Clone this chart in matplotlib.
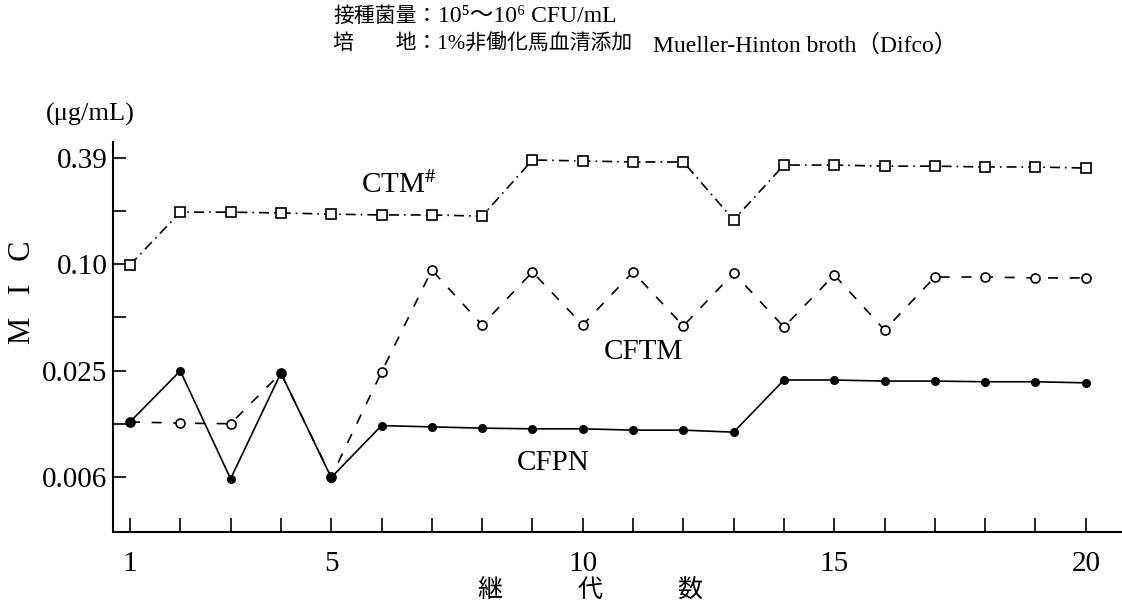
import matplotlib
matplotlib.use("Agg")
import matplotlib.pyplot as plt
import numpy as np

plt.rcParams['font.family'] = ['Liberation Serif', 'Noto Sans CJK JP', 'DejaVu Serif']
plt.rcParams['mathtext.fontset'] = 'stix'

# passage number
passages = np.arange(1, 21)

# MIC values (ug/mL)
ctm = [0.099, 0.197, 0.197, 0.195, 0.192, 0.19, 0.19, 0.187, 0.389, 0.384,
       0.379, 0.379, 0.178, 0.364, 0.364, 0.359, 0.359, 0.355, 0.355, 0.35]
cftm = [0.0128, 0.0126, 0.0125, 0.0242, 0.00625, 0.0245, 0.0927, 0.0453, 0.0903, 0.0453,
        0.0903, 0.0447, 0.0892, 0.0441, 0.0869, 0.0424, 0.0846, 0.0846, 0.0836, 0.0836]
cfpn = [0.0128, 0.0249, 0.0061, 0.0242, 0.0062, 0.0122, 0.0120, 0.0118, 0.0117, 0.0117,
        0.0115, 0.0115, 0.0112, 0.0221, 0.0221, 0.0218, 0.0218, 0.0216, 0.0216, 0.0213]

y_ticks = [0.00625, 0.0125, 0.025, 0.05, 0.1, 0.2, 0.4]
y_ticklabels = ['0.006', '', '0.025', '', '0.10', '', '0.39']
x_labeled = (1, 5, 10, 15, 20)

fig = plt.figure(figsize=(11.22, 6.14), dpi=100)
ax = fig.add_axes([0.1007, 0.1336, 0.8993, 0.6351])

ax.plot(passages, ctm, color='black', lw=1.2, ls=(0, (6, 3, 1, 3)),
        marker='s', ms=6.8, mfc='white', mec='black', mew=1.2)
ax.plot(passages, cftm, color='black', lw=1.2, ls=(0, (6, 7)),
        marker='o', ms=6.5, mfc='white', mec='black', mew=1.2)
ax.plot(passages, cfpn, color='black', lw=1.2, ls='-',
        marker='o', ms=5.5, mfc='black', mec='black')

ax.set_yscale('log', base=2)
ax.set_ylim(0.00305, 0.4915)
ax.set_xlim(0.662, 20.72)
ax.set_yticks(y_ticks)
ax.set_yticklabels(y_ticklabels, fontsize=21)
ax.minorticks_off()
ax.set_xticks(passages)
ax.set_xticklabels([str(i) if i in x_labeled else '' for i in passages], fontsize=21)

ax.spines['top'].set_visible(False)
ax.spines['right'].set_visible(False)
ax.spines['left'].set_linewidth(1.5)
ax.spines['bottom'].set_linewidth(1.5)
ax.tick_params(axis='y', direction='in', length=9, width=1.2, pad=4)
ax.tick_params(axis='x', direction='in', length=10, width=1.2, pad=14)

# series labels
ax.text(6.35, 0.281, 'CTM$^{\\#}$', fontsize=21, ha='center', va='center')
ax.text(11.2, 0.0319, 'CFTM', fontsize=21, ha='center', va='center')
ax.text(9.42, 0.00749, 'CFPN', fontsize=21, ha='center', va='center')

# axis labels
fig.text(23 / 1122, 1 - 292 / 614, 'M   I   C', rotation=90, fontsize=22, ha='center', va='center')
fig.text(90 / 1122, 1 - 114 / 614, '(μg/mL)', fontsize=19, ha='center', va='center')
fig.text(590 / 1122, 1 - 590 / 614, '継　　　代　　　数', fontsize=18, ha='center', va='center')

# header (CJK part and Latin part set separately, Latin is set a bit larger)
fig.text(333 / 1122, 1 - 17 / 614, '接種菌量：', fontsize=15, ha='left', va='center')
fig.text(438 / 1122, 1 - 17 / 614, '10⁵〜10⁶ CFU/mL', fontsize=17, ha='left', va='center')
fig.text(333 / 1122, 1 - 45 / 614, '培　　地：1%非働化馬血清添加', fontsize=15, ha='left', va='center')
fig.text(653 / 1122, 1 - 45 / 614, 'Mueller-Hinton broth（Difco）', fontsize=17, ha='left', va='center')

fig.savefig('out.png', dpi=100)
